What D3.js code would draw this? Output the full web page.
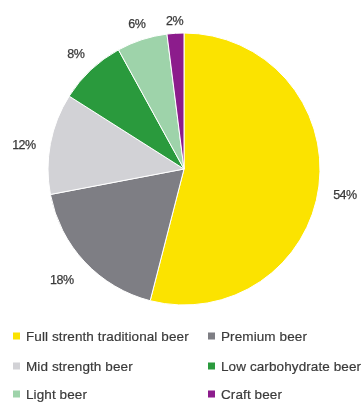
<!DOCTYPE html>
<html>
<head>
<meta charset="utf-8">
<script src="https://cdn.jsdelivr.net/npm/d3@7/dist/d3.min.js"></script>
<style>
  html, body { margin: 0; padding: 0; background: #fff; }
  svg { display: block; }
  text { font-family: "Liberation Sans", Arial, sans-serif; fill: #3a3a3a; }
</style>
</head>
<body>
<script>
// Beer market share by segment
const categories = [
  "Full strenth traditional beer",
  "Premium beer",
  "Mid strength beer",
  "Low carbohydrate beer",
  "Light beer",
  "Craft beer"
];
const shares = [54, 18, 12, 8, 6, 2];
const colors = ["#fbe300", "#7e7e84", "#d2d2d6", "#2b9a3e", "#9ed3aa", "#8c1d8c"];
const valueLabels = ["54%", "18%", "12%", "8%", "6%", "2%"];

const W = 361, H = 405;
const cx = 184, cy = 169, R = 136;

const svg = d3.select("body").append("svg")
  .attr("width", W).attr("height", H);

const defs = svg.append("defs");
defs.append("filter").attr("id", "soft")
  .append("feGaussianBlur").attr("stdDeviation", 0.5);

const data = categories.map((c, i) => ({ name: c, value: shares[i], color: colors[i], label: valueLabels[i] }));

const pie = d3.pie().value(d => d.value).sort(null);
const arcs = pie(data);
const arc = d3.arc().innerRadius(0).outerRadius(R);

const root = svg.append("g").attr("filter", "url(#soft)");

const g = root.append("g").attr("transform", `translate(${cx},${cy})`);
g.selectAll("path.slice").data(arcs).join("path")
  .attr("class", "slice")
  .attr("d", arc)
  .attr("fill", d => d.data.color)
  .attr("stroke", "#fff")
  .attr("stroke-width", 1);

// Percentage labels placed outside the rim (offset from radius, angle nudge in degrees)
const labelOffset = [27, 29, 26, 22, 17, 13];
const angleNudge = [2, 1, -2, 0, 0, 0];
g.selectAll("text.pct").data(arcs).join("text")
  .attr("class", "pct")
  .attr("transform", (d, i) => {
    const a = (d.startAngle + d.endAngle) / 2 + angleNudge[i] * Math.PI / 180;
    const r = R + labelOffset[i];
    return `translate(${Math.sin(a) * r},${-Math.cos(a) * r})`;
  })
  .attr("text-anchor", "middle")
  .attr("dy", "0.35em")
  .attr("font-size", 12.5)
  .attr("letter-spacing", -0.5)
  .attr("stroke", "#3a3a3a")
  .attr("stroke-width", 0.25)
  .text(d => d.data.label);

// Legend: two columns, three rows
const legendX = [13, 208];
const legendY = [336, 366, 394];
const legend = root.append("g");
data.forEach((d, i) => {
  const col = i % 2, row = Math.floor(i / 2);
  const item = legend.append("g")
    .attr("transform", `translate(${legendX[col]},${legendY[row]})`);
  item.append("rect")
    .attr("x", 0).attr("y", -3.5).attr("width", 7).attr("height", 7)
    .attr("fill", d.color);
  item.append("text")
    .attr("x", 13).attr("dy", "0.35em")
    .attr("font-size", 13.5)
    .attr("letter-spacing", 0.1)
    .attr("stroke", "#3a3a3a")
    .attr("stroke-width", 0.2)
    .text(d.name);
});
</script>
</body>
</html>
